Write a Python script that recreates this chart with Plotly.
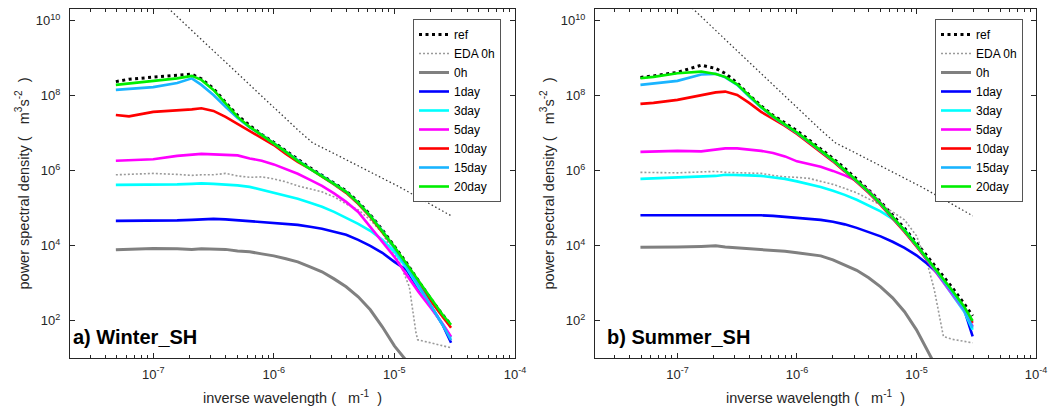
import plotly.graph_objects as go

# ---------------- data ----------------
# common wavenumber grid, m^-1
k = [4.9e-8, 6.3e-8, 1.0e-7, 1.58e-7, 2.09e-7, 2.51e-7, 3.16e-7, 3.98e-7, 5.01e-7,
     6.31e-7, 7.94e-7, 1.0e-6, 1.26e-6, 1.58e-6, 2.0e-6, 2.51e-6, 3.16e-6, 3.98e-6,
     5.01e-6, 6.31e-6, 7.94e-6, 1.0e-5, 1.26e-5, 1.58e-5, 2.0e-5, 2.51e-5, 2.95e-5]

# reference power-law line (dotted, no legend entry)
k_pl = [1.12e-7, 1.36e-7, 3.10e-7, 8.61e-7, 1.63e-6, 2.10e-6, 3.08e-6, 1.10e-5, 2.96e-5]
p_pl = [3.56e10, 2.01e10, 1.66e9, 7.59e7, 1.11e7, 5.48e6, 2.97e6, 3.67e5, 6.2e4]

# ---- a) Winter_SH ----
w_ref = [2.36e8, 2.74e8, 3.1e8, 3.5e8, 3.72e8, 2.79e8, 1.55e8, 6.6e7, 2.95e7, 1.6e7, 9.2e6,
         5.65e6, 3.35e6, 1.93e6, 1.18e6, 7.45e5, 4.7e5, 2.88e5, 1.46e5, 6.6e4, 2.62e4,
         9.8e3, 3.46e3, 1.15e3, 380, 142, 77]
w_eda_k = k[:22] + [1.10e-5, 1.33e-5, 1.51e-5, 1.56e-5, 2.0e-5, 2.51e-5, 2.95e-5]
w_eda = [7.7e5, 7.9e5, 8.4e5, 7.9e5, 7.45e5, 7.7e5, 7.7e5, 8.4e5, 7.2e5, 6.6e5, 6.8e5,
         6.0e5, 5.0e5, 3.91e5, 3.25e5, 2.7e5, 1.99e5, 1.29e5, 8.95e4, 4.84e4, 2.18e4,
         5.65e3, 3.67e3, 792, 47, 30.5, 25.4, 21.1, 18.7]
w_0h_k = k[:23]
w_0h = [7.7e3, 7.9e3, 8.4e3, 8.2e3, 7.9e3, 8.2e3, 8.2e3, 7.9e3, 7.2e3, 6.8e3, 6.0e3,
        5.3e3, 4.42e3, 3.67e3, 2.7e3, 1.99e3, 1.29e3, 792, 429, 193, 68, 21, 8.4]
w_1d = [4.56e4, 4.56e4, 4.56e4, 4.7e4, 4.84e4, 5.0e4, 5.15e4, 5.0e4, 4.7e4, 4.56e4, 4.29e4,
        4.03e4, 3.79e4, 3.56e4, 3.16e4, 2.79e4, 2.32e4, 1.93e4, 1.42e4, 9.8e3, 6.4e3,
        3.67e3, 2.25e3, 700, 247, 77, 25.4]
w_3d = [4.16e5, 4.16e5, 4.16e5, 4.29e5, 4.42e5, 4.56e5, 4.42e5, 4.29e5, 4.03e5, 3.67e5,
        3.05e5, 2.54e5, 2.11e5, 1.76e5, 1.38e5, 1.08e5, 7.9e4, 5.5e4, 3.79e4, 2.47e4,
        1.42e4, 6.8e3, 2.54e3, 792, 247, 77, 34.6]
w_5d = [1.82e6, 1.87e6, 2.01e6, 2.47e6, 2.70e6, 2.79e6, 2.70e6, 2.62e6, 2.54e6, 2.11e6,
        1.82e6, 1.46e6, 1.11e6, 8.2e5, 5.65e5, 3.91e5, 2.47e5, 1.46e5, 7.9e4, 3.16e4,
        1.33e4, 5.0e3, 1.66e3, 582, 218, 82, 37]
w_10d = [3.05e7, 2.79e7, 3.67e7, 3.98e7, 4.29e7, 4.61e7, 3.91e7, 2.70e7, 1.76e7, 1.15e7,
         7.4e6, 4.8e6, 2.79e6, 1.71e6, 1.11e6, 7.0e5, 4.29e5, 2.54e5, 1.29e5, 5.8e4,
         2.32e4, 8.7e3, 3.06e3, 1.01e3, 335, 126, 64]
w_15d = [1.42e8, 1.51e8, 1.68e8, 2.18e8, 2.88e8, 1.93e8, 1.04e8, 5.0e7, 2.54e7, 1.42e7,
         8.95e6, 5.3e6, 3.15e6, 1.82e6, 1.11e6, 7.2e5, 4.4e5, 2.7e5, 1.38e5, 6.2e4,
         2.47e4, 8.4e3, 2.88e3, 895, 262, 77, 30]
w_20d = [1.93e8, 2.11e8, 2.42e8, 2.88e8, 3.35e8, 2.62e8, 1.42e8, 6.0e7, 2.7e7, 1.46e7,
         8.95e6, 5.3e6, 3.15e6, 1.82e6, 1.11e6, 7.2e5, 4.4e5, 2.7e5, 1.38e5, 6.2e4,
         2.47e4, 9.2e3, 3.25e3, 1.15e3, 380, 142, 77]

# ---- b) Summer_SH ----
s_ref = [3.06e8, 3.35e8, 4.16e8, 6.47e8, 5.31e8, 3.91e8, 2.18e8, 1.04e8, 5.31e7, 2.96e7,
         1.87e7, 1.15e7, 6.6e6, 3.79e6, 2.11e6, 1.15e6, 6.0e5, 3.05e5, 1.46e5, 6.6e4,
         2.88e4, 1.18e4, 4.7e3, 1.87e3, 745, 279, 133]
s_eda_k = k[:22] + [1.26e-5, 1.41e-5, 1.58e-5, 1.68e-5, 2.0e-5, 2.51e-5, 2.95e-5]
s_eda = [8.95e5, 8.95e5, 8.7e5, 9.2e5, 9.5e5, 8.95e5, 8.7e5, 8.7e5, 8.4e5, 7.45e5, 6.8e5,
         6.6e5, 6.2e5, 5.15e5, 4.29e5, 3.35e5, 2.54e5, 1.76e5, 1.22e5, 7.9e4, 4.84e4,
         1.82e4, 2.54e3, 659, 104, 37.4, 31.5, 27.9, 25.4]
s_0h_k = k[:24]
s_0h = [8.95e3, 8.95e3, 9.2e3, 9.5e3, 9.8e3, 9.2e3, 8.7e3, 8.4e3, 7.9e3, 7.7e3, 7.0e3,
        6.4e3, 5.8e3, 5.31e3, 4.16e3, 3.06e3, 2.18e3, 1.38e3, 792, 403, 171, 56.5, 13.8, 3.6]
s_1d = [6.4e4, 6.4e4, 6.4e4, 6.6e4, 6.6e4, 6.6e4, 6.6e4, 6.6e4, 6.4e4, 6.2e4, 5.8e4,
        5.48e4, 5.15e4, 4.84e4, 4.29e4, 3.67e4, 2.96e4, 2.32e4, 1.76e4, 1.26e4, 8.7e3,
        5.48e3, 3.06e3, 1.56e3, 601, 193, 37.9]
s_3d = [6.0e5, 6.2e5, 6.4e5, 6.8e5, 7.2e5, 7.7e5, 7.7e5, 7.45e5, 7.2e5, 6.6e5, 6.0e5,
        5.15e5, 4.42e5, 3.67e5, 2.88e5, 2.25e5, 1.66e5, 1.18e5, 8.2e4, 5.15e4, 2.62e4,
        1.04e4, 3.91e3, 1.38e3, 484, 171, 56.5]
s_5d = [3.16e6, 3.25e6, 3.35e6, 3.25e6, 3.56e6, 3.91e6, 3.91e6, 3.67e6, 3.35e6, 2.96e6,
        2.39e6, 1.76e6, 1.46e6, 1.26e6, 9.8e5, 7.45e5, 5.31e5, 2.88e5, 1.38e5, 6.0e4,
        2.47e4, 9.8e3, 3.67e3, 1.38e3, 515, 187, 70]
s_10d = [6.0e7, 6.4e7, 7.7e7, 1.04e8, 1.22e8, 1.28e8, 1.04e8, 6.4e7, 3.67e7, 2.39e7,
         1.56e7, 9.5e6, 5.48e6, 3.16e6, 1.76e6, 9.5e5, 5.0e5, 2.54e5, 1.22e5, 5.48e4,
         2.32e4, 9.5e3, 3.79e3, 1.46e3, 565, 211, 87]
s_15d = [1.93e8, 2.11e8, 2.47e8, 3.67e8, 3.79e8, 3.06e8, 1.93e8, 9.5e7, 4.84e7, 2.70e7,
         1.66e7, 1.01e7, 5.8e6, 3.35e6, 1.87e6, 1.01e6, 5.31e5, 2.70e5, 1.29e5, 5.8e4,
         2.47e4, 1.01e4, 3.91e3, 1.46e3, 548, 193, 64]
s_20d = [2.91e8, 3.16e8, 3.95e8, 4.37e8, 3.79e8, 3.16e8, 1.99e8, 9.8e7, 5.0e7, 2.79e7,
         1.71e7, 1.04e7, 6.0e6, 3.46e6, 1.93e6, 1.04e6, 5.48e5, 2.79e5, 1.33e5, 6.0e4,
         2.54e4, 1.04e4, 4.16e3, 1.60e3, 620, 232, 98]

series_names = ["ref", "EDA 0h", "0h", "1day", "3day", "5day", "10day", "15day", "20day"]
x_tickvals = [1e-7, 1e-6, 1e-5, 1e-4]
x_ticktext = ["10<sup>-7</sup>", "10<sup>-6</sup>", "10<sup>-5</sup>", "10<sup>-4</sup>"]
y_tickvals = [1e2, 1e4, 1e6, 1e8, 1e10]
y_ticktext = ["10<sup>2</sup>", "10<sup>4</sup>", "10<sup>6</sup>", "10<sup>8</sup>", "10<sup>10</sup>"]
panel_titles = ["a) Winter_SH", "b) Summer_SH"]

# ---------------- styles ----------------
styles = {
    "ref":    dict(color="black", width=3, dash="3px,3.5px"),
    "EDA 0h": dict(color="#9a9a9a", width=1.6, dash="2px,2px"),
    "0h":     dict(color="#808080", width=3),
    "1day":   dict(color="#0000ff", width=2.6),
    "3day":   dict(color="#00ffff", width=2.6),
    "5day":   dict(color="#ff00ff", width=2.6),
    "10day":  dict(color="#ff0000", width=2.6),
    "15day":  dict(color="#1ab4ff", width=2.6),
    "20day":  dict(color="#00ee00", width=2.6),
}
FONT = "Liberation Sans, Arial, Helvetica, sans-serif"
TXT = "#262626"

panels = [
    dict(xa="x", ya="y", legend="legend",
         data=[(k, w_ref), (w_eda_k, w_eda), (w_0h_k, w_0h), (k, w_1d), (k, w_3d),
               (k, w_5d), (k, w_10d), (k, w_15d), (k, w_20d)]),
    dict(xa="x2", ya="y2", legend="legend2",
         data=[(k, s_ref), (s_eda_k, s_eda), (s_0h_k, s_0h), (k, s_1d), (k, s_3d),
               (k, s_5d), (k, s_10d), (k, s_15d), (k, s_20d)]),
]

fig = go.Figure()
for p in panels:
    fig.add_trace(go.Scatter(x=k_pl, y=p_pl, mode="lines", xaxis=p["xa"], yaxis=p["ya"],
                             line=dict(color="#3a3a3a", width=1.3, dash="1.5px,2.5px"),
                             showlegend=False, hoverinfo="skip"))
    for name, (xs, ys) in zip(series_names, p["data"]):
        fig.add_trace(go.Scatter(x=xs, y=ys, mode="lines", name=name,
                                 xaxis=p["xa"], yaxis=p["ya"], legend=p["legend"],
                                 line=styles[name]))

# ---------------- layout ----------------
W, H = 1052, 409
L1, R1, L2, R2 = 70, 515, 595, 1036
TOP, BOT = 9, 358

minor_x = [m * 10.0 ** d for d in range(-8, -4) for m in range(2, 10)]
xcommon = dict(type="log", range=[-7.69, -4.0], tickvals=x_tickvals, ticktext=x_ticktext,
               showline=True, linecolor=TXT, linewidth=1, mirror="allticks",
               ticks="inside", ticklen=5, tickcolor=TXT, showgrid=False, zeroline=False,
               tickfont=dict(family=FONT, size=13, color=TXT), ticklabelstandoff=4,
               automargin=False,
               minor=dict(tickmode="array", tickvals=minor_x, ticks="inside", ticklen=3,
                          tickcolor=TXT, showgrid=False))
ycommon = dict(type="log", range=[1.0, 10.31], tickvals=y_tickvals, ticktext=y_ticktext,
               showline=True, linecolor=TXT, linewidth=1, mirror="allticks",
               ticks="inside", ticklen=5, tickcolor=TXT, showgrid=False, zeroline=False,
               automargin=False,
               tickfont=dict(family=FONT, size=13, color=TXT), ticklabelstandoff=6)

legcommon = dict(xanchor="left", yanchor="top", y=1 - 19 / H, bgcolor="white",
                 bordercolor="#555555", borderwidth=1, itemwidth=30, tracegroupgap=0,
                 font=dict(family=FONT, size=12, color="black"))

ydom = [1 - BOT / H, 1 - TOP / H]
fig.update_layout(
    width=W, height=H, margin=dict(l=0, r=0, t=0, b=0, autoexpand=False),
    paper_bgcolor="white", plot_bgcolor="white",
    showlegend=True,
    xaxis=dict(xcommon, domain=[L1 / W, R1 / W], anchor="y"),
    yaxis=dict(ycommon, domain=ydom, anchor="x"),
    xaxis2=dict(xcommon, domain=[L2 / W, R2 / W], anchor="y2"),
    yaxis2=dict(ycommon, domain=ydom, anchor="x2"),
    legend=dict(legcommon, x=413 / W),
    legend2=dict(legcommon, x=935 / W),
)

ann = []
for i, (l, r) in enumerate([(L1, R1), (L2, R2)]):
    ann.append(dict(text="inverse wavelength (\u00a0\u00a0\u00a0m<sup>-1</sup>\u00a0\u00a0)",
                    x=(l + r) / 2 / W, y=1 - 397 / H, xref="paper", yref="paper",
                    xanchor="center", yanchor="middle", showarrow=False,
                    font=dict(family=FONT, size=14.5, color=TXT)))
    ann.append(dict(text="power spectral density (\u00a0\u00a0\u00a0m<sup>3</sup>s<sup>-2</sup>\u00a0\u00a0)",
                    x=(l - 48) / W, y=(ydom[0] + ydom[1]) / 2, xref="paper", yref="paper",
                    xanchor="center", yanchor="middle", showarrow=False, textangle=-90,
                    font=dict(family=FONT, size=14.5, color=TXT)))
    ann.append(dict(text="<b>" + panel_titles[i] + "</b>",
                    x=(l + (1 if i == 0 else 10)) / W, y=1 - 337 / H, xref="paper", yref="paper",
                    xanchor="left", yanchor="middle", showarrow=False,
                    font=dict(family=FONT, size=20, color="black")))
fig.update_layout(annotations=ann)

fig.write_html("out.html")
